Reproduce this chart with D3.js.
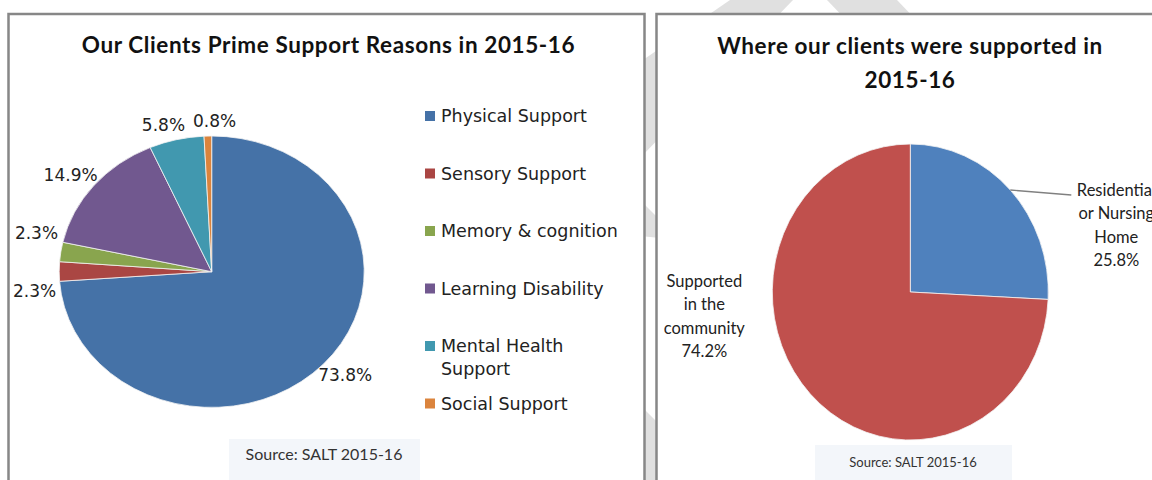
<!DOCTYPE html>
<html>
<head>
<meta charset="utf-8">
<script src="https://cdn.jsdelivr.net/npm/d3@7"></script>
<style>
    body { margin: 0; background: #fff; }
    svg { display: block; }
</style>
</head>
<body>
<div id="chart"></div>
<script>

// Left chart: prime support reasons
const leftTitle = "Our Clients Prime Support Reasons in 2015-16";
const reasonNames = ["Physical Support", "Sensory Support", "Memory & cognition",
    "Learning Disability", "Mental Health Support", "Social Support"];
const reasonValues = [73.8, 2.3, 2.3, 14.9, 5.8, 0.8];
const reasonColors = ["#4572A7", "#AA4643", "#89A54E", "#71588F", "#4198AF", "#DB843D"];

// Right chart: where clients were supported
const rightTitle = ["Where our clients were supported in", "2015-16"];
const placeNames = ["Residential or Nursing Home", "Supported in the community"];
const placeValues = [25.8, 74.2];
const placeColors = ["#4F81BD", "#C0504D"];

const sourceText = "Source: SALT 2015-16";

const W = 1152, H = 480;
const pct = v => d3.format(".1f")(v) + "%";

let svg = d3.select("#chart").append("svg")
    .attr("width", W)
    .attr("height", H);

// faint watermark stripes behind the panels
let mark = svg.append("g").attr("fill", "#e0e0e0");
mark.append("polygon").attr("points", "730,0 793,0 640,158 640,62");
mark.append("polygon").attr("points", "827,0 897,0 1060,170 990,170");
mark.append("polygon").attr("points", "640,200 660,220 660,238 640,236");
mark.append("polygon").attr("points", "640,405 660,425 660,480 640,480");

// panels
svg.append("rect")
    .attr("x", 8.5).attr("y", 14)
    .attr("width", 636).attr("height", 520)
    .attr("fill", "#fff")
    .attr("stroke", "#878787")
    .attr("stroke-width", 2.5);

svg.append("rect")
    .attr("x", 656.5).attr("y", 14)
    .attr("width", 540).attr("height", 520)
    .attr("fill", "#fff")
    .attr("stroke", "#878787")
    .attr("stroke-width", 2.5);

let pie = d3.pie().sort(null).value(d => d);

function ellipsePoint(c, a, k) {
    return [c.x + c.rx * k * Math.sin(a), c.y - c.ry * k * Math.cos(a)];
}

function drawPie(c, values, colors) {
    let g = svg.append("g")
        .attr("transform", "translate(" + c.x + "," + c.y + ") scale(" + (c.rx / c.ry) + ",1)");
    let arc = d3.arc().innerRadius(0).outerRadius(c.ry);
    g.selectAll("path")
        .data(pie(values))
        .enter().append("path")
        .attr("d", arc)
        .attr("fill", (d, i) => colors[i])
        .attr("stroke", "#f4f4f4")
        .attr("stroke-width", 0.8)
        .attr("vector-effect", "non-scaling-stroke");
    return pie(values);
}

/* ---------------- left chart ---------------- */

let left = {x: 211.7, y: 271.7, rx: 152.5, ry: 135.7};

svg.append("text")
    .attr("x", 328.5).attr("y", 52.5)
    .attr("text-anchor", "middle")
    .attr("font-family", "Lato")
    .attr("font-weight", "bold")
    .attr("font-size", "22.5px")
    .attr("letter-spacing", "0.6px")
    .attr("fill", "#111")
    .text(leftTitle);

let leftArcs = drawPie(left, reasonValues, reasonColors);

// data labels: start just outside the slice middle, then push apart
let labelG = svg.append("g")
    .attr("font-family", "DejaVu Sans")
    .attr("font-size", "17px")
    .attr("fill", "#222");

let labels = leftArcs.map(function (d) {
    let a = (d.startAngle + d.endAngle) / 2;
    let p = ellipsePoint(left, a, 1);
    let t = labelG.append("text")
        .attr("text-anchor", "middle")
        .attr("dy", "0.36em")
        .text(pct(d.value));
    let w = t.node().getComputedTextLength();
    let h = 14;
    return {
        node: t,
        w: w, h: h,
        x: p[0] + Math.sin(a) * (w / 2 + 3),
        y: p[1] - Math.cos(a) * (h / 2 + 8)
    };
});

for (let it = 0; it < 60; it++) {
    for (let i = 0; i < labels.length; i++) {
        for (let j = i + 1; j < labels.length; j++) {
            let a = labels[i], b = labels[j];
            let ox = (a.w + b.w) / 2 + 8 - Math.abs(a.x - b.x);
            let oy = (a.h + b.h) / 2 + 44 - Math.abs(a.y - b.y);
            if (ox > 0 && oy > 0) {
                if (ox < oy) {
                    let s = a.x < b.x ? 1 : -1;
                    a.x -= s * ox / 2; b.x += s * ox / 2;
                } else {
                    let s = a.y < b.y ? 1 : -1;
                    a.y -= s * oy / 2; b.y += s * oy / 2;
                }
            }
        }
    }
}
labels.forEach(l => l.node.attr("x", l.x).attr("y", l.y));

// legend
let legend = svg.append("g")
    .attr("font-family", "DejaVu Sans")
    .attr("font-size", "17.5px")
    .attr("fill", "#222");

reasonNames.forEach(function (name, i) {
    let y = 116 + i * 57.5;
    legend.append("rect")
        .attr("x", 425).attr("y", y - 5)
        .attr("width", 10).attr("height", 10)
        .attr("fill", reasonColors[i]);

    let t = legend.append("text")
        .attr("x", 441).attr("y", y)
        .attr("dy", "0.36em");

    // wrap long names onto a second line
    let words = name.split(" "), line = [];
    let ts = t.append("tspan").attr("x", 441);
    words.forEach(function (w) {
        line.push(w);
        ts.text(line.join(" "));
        if (ts.node().getComputedTextLength() > 190 && line.length > 1) {
            line.pop();
            ts.text(line.join(" "));
            line = [w];
            ts = t.append("tspan").attr("x", 441).attr("dy", "23px").text(w);
        }
    });
});

// source box
svg.append("rect")
    .attr("x", 229).attr("y", 439)
    .attr("width", 191).attr("height", 41)
    .attr("fill", "#f3f6fa");
svg.append("text")
    .attr("x", 324).attr("y", 459.5)
    .attr("text-anchor", "middle")
    .attr("font-family", "Lato")
    .attr("font-size", "16px")
    .attr("fill", "#333")
    .text(sourceText);

/* ---------------- right chart ---------------- */

let right = {x: 910.3, y: 292, rx: 138, ry: 148};

rightTitle.forEach(function (line, i) {
    svg.append("text")
        .attr("x", 910).attr("y", 54 + i * 33.5)
        .attr("text-anchor", "middle")
        .attr("font-family", "Lato")
        .attr("font-weight", "bold")
        .attr("font-size", "22.5px")
        .attr("letter-spacing", "0.6px")
        .attr("fill", "#111")
        .text(line);
});

let rightArcs = drawPie(right, placeValues, placeColors);

let rLabels = svg.append("g")
    .attr("font-family", "Lato")
    .attr("font-size", "16.5px")
    .attr("fill", "#222")
    .attr("text-anchor", "middle");

rightArcs.forEach(function (d, i) {
    let a = (d.startAngle + d.endAngle) / 2;
    let side = Math.sin(a) > 0 ? 1 : -1;
    let p = ellipsePoint(right, a, 1);
    let lx = right.x + side * (right.rx + 68);
    let top;

    if (side > 0) {
        // leader line from the slice edge to the label
        let end = [p[0] + 61, p[1] + 5];
        rLabels.append("path")
            .attr("d", d3.line()([p, end]))
            .attr("stroke", "#808080")
            .attr("stroke-width", 1.3)
            .attr("fill", "none");
        top = end[1] + 1;
    } else {
        top = right.y - 5;
    }

    // wrap the name into short lines, then the value
    let words = placeNames[i].split(" "), lines = [], cur = [];
    let probe = rLabels.append("text");
    words.forEach(function (w) {
        cur.push(w);
        probe.text(cur.join(" "));
        if (probe.node().getComputedTextLength() > 90 && cur.length > 1) {
            cur.pop();
            lines.push(cur.join(" "));
            cur = [w];
        }
    });
    lines.push(cur.join(" "));
    probe.remove();
    lines.push(pct(d.value));

    lines.forEach(function (s, k) {
        rLabels.append("text")
            .attr("x", lx)
            .attr("y", top + k * 23.4)
            .text(s);
    });
});

svg.append("rect")
    .attr("x", 815).attr("y", 445)
    .attr("width", 197).attr("height", 40)
    .attr("fill", "#f3f6fa");
svg.append("text")
    .attr("x", 913).attr("y", 466.5)
    .attr("text-anchor", "middle")
    .attr("font-family", "Lato")
    .attr("font-size", "13px")
    .attr("fill", "#333")
    .text(sourceText);

</script>
</body>
</html>
